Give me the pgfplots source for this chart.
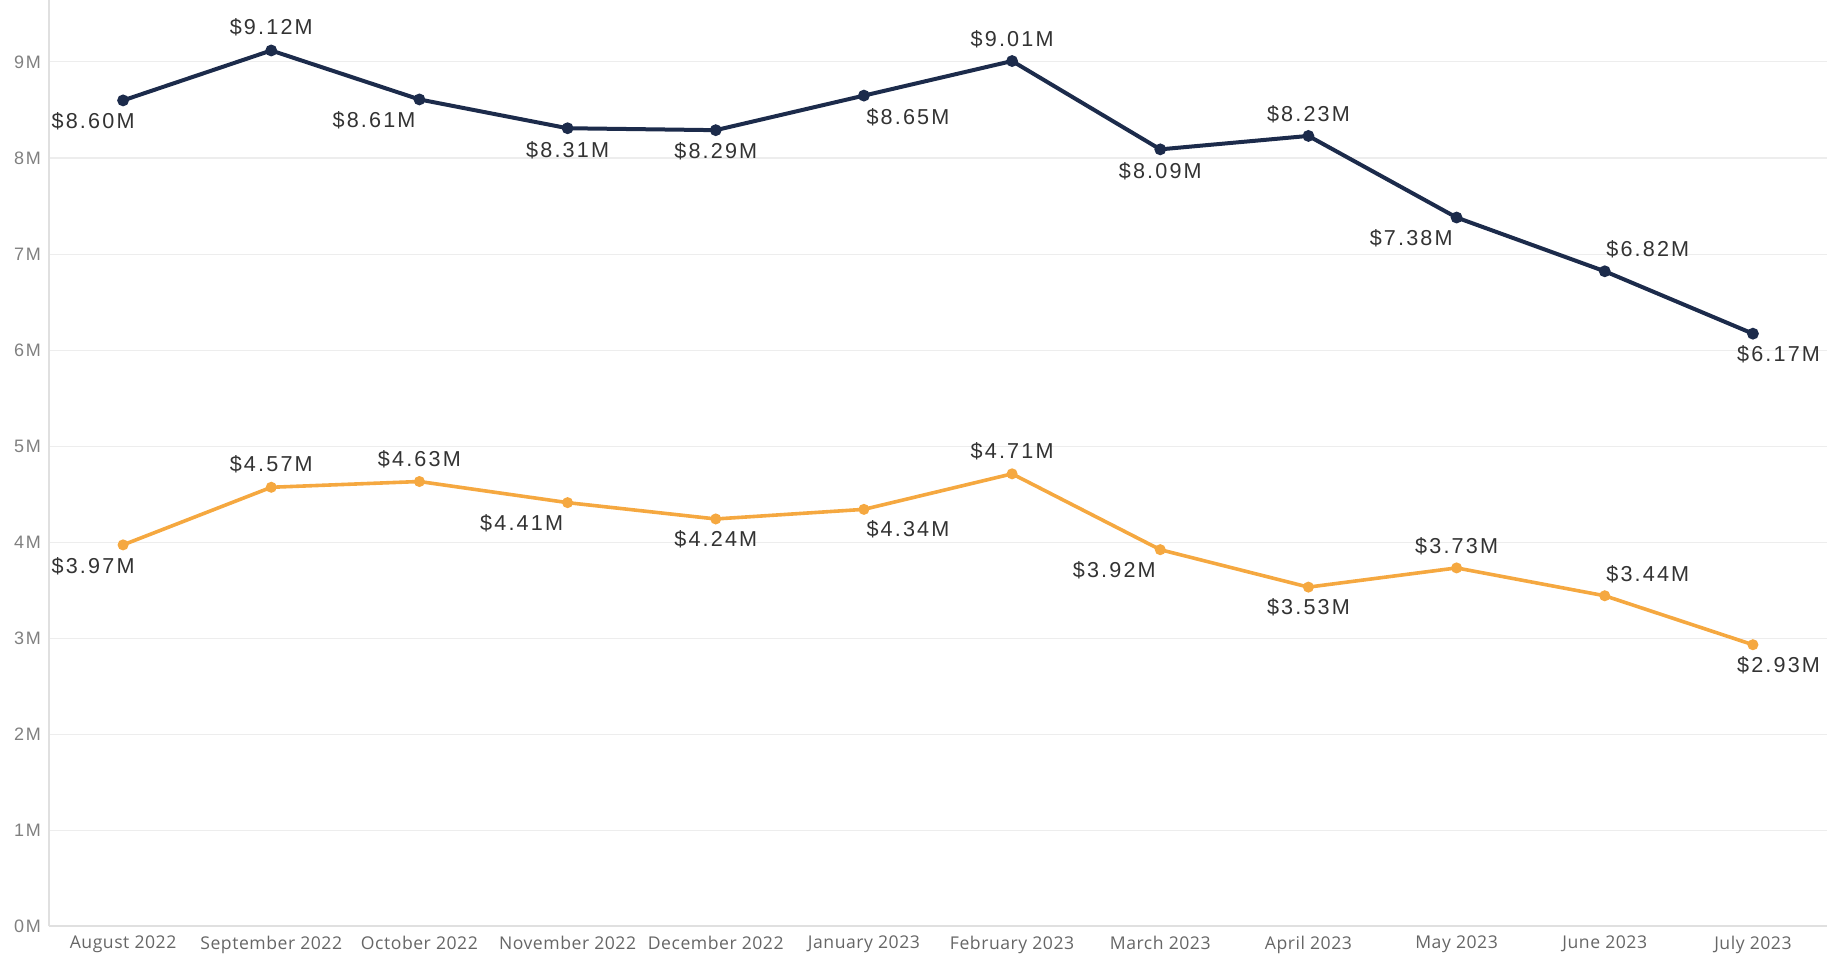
\documentclass[border=0pt]{standalone}
\usepackage{pgfplots}
\pgfplotsset{compat=1.18}
\usepackage{pgfplotstable}
\usepackage{fontspec}
\setmainfont{Liberation Sans}
\newfontfamily\labelfont{Liberation Sans}[LetterSpace=10]
\newfontfamily\tickfont{Liberation Sans}[LetterSpace=10]
\newfontfamily\xfont{Open Sans}[LetterSpace=3]
\definecolor{navy}{HTML}{1C2B4B}
\definecolor{amber}{HTML}{F5A840}
\definecolor{lbl}{HTML}{333333}

\pgfplotstableread{
x y dx dy
0 8.60 -15 -10.5
1 9.12 0 11.5
2 8.61 -22.7 -10.5
3 8.31 0 -11
4 8.29 0 -10.5
5 8.65 22 -11
6 9.01 0 11
7 8.09 0 -11
8 8.23 0 11
9 7.38 -22.7 -10.5
10 6.82 21.5 11
11 6.17 12.8 -10.5
}\navydata

\pgfplotstableread{
x y dx dy
0 3.97 -15 -10.5
1 4.57 0 11.5
2 4.63 0 11
3 4.41 -23 -10.5
4 4.24 0 -10
5 4.34 22 -10
6 4.71 0 11.5
7 3.92 -23 -10.5
8 3.53 0 -10
9 3.73 0 11
10 3.44 21.5 11
11 2.93 12.8 -10.5
}\amberdata

\begin{document}
\begin{tikzpicture}
\begin{axis}[
  scale only axis,
  width=889pt, height=463pt,
  xmin=-0.5, xmax=11.5,
  ymin=0, ymax=9.646,
  xtick={0,...,11},
  xticklabels={August 2022,September 2022,October 2022,November 2022,December 2022,January 2023,February 2023,March 2023,April 2023,May 2023,June 2023,July 2023},
  ytick={0,1,...,9},
  yticklabels={0M,1M,2M,3M,4M,5M,6M,7M,8M,9M},
  major tick length=0pt,
  axis lines*=left,
  axis line style={draw=black!12, line width=0.6pt},
  ymajorgrids,
  grid style={draw=black!7, line width=0.5pt},
  yticklabel style={font=\tickfont\fontsize{9}{10}\selectfont, text=black!50, xshift=-0.5pt},
  xticklabel style={font=\xfont\fontsize{8.8}{10}\selectfont, text=black!60, yshift=-1.5pt},
  /pgf/number format/assume math mode=true,
  clip=false,
]
\addplot[navy, line width=2pt, mark=*, mark size=1.9pt,
    point meta=explicit,
    visualization depends on={\thisrow{dx} \as \dx},
    visualization depends on={\thisrow{dy} \as \dy},
    nodes near coords={\$\pgfmathprintnumber[fixed,fixed zerofill,precision=2]{\pgfplotspointmeta}M},
    nodes near coords style={anchor=center, font=\labelfont\fontsize{10.8}{12}\selectfont, text=lbl, xshift=\dx, yshift=\dy}]
  table[x=x, y=y, meta=y] {\navydata};
\addplot[amber, line width=1.8pt, mark=*, mark size=1.8pt,
    point meta=explicit,
    visualization depends on={\thisrow{dx} \as \dx},
    visualization depends on={\thisrow{dy} \as \dy},
    nodes near coords={\$\pgfmathprintnumber[fixed,fixed zerofill,precision=2]{\pgfplotspointmeta}M},
    nodes near coords style={anchor=center, font=\labelfont\fontsize{10.8}{12}\selectfont, text=lbl, xshift=\dx, yshift=\dy}]
  table[x=x, y=y, meta=y] {\amberdata};
\end{axis}
\pgfresetboundingbox
\path[use as bounding box] ([xshift=-24.5pt, yshift=-16.5pt]current axis.south west) rectangle (current axis.north east);
\end{tikzpicture}
\end{document}
